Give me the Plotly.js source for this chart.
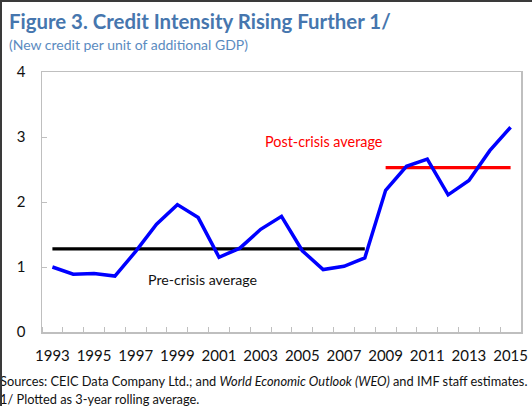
<!DOCTYPE html>
<html>
<head>
<meta charset="utf-8">
<script src="https://cdn.plot.ly/plotly-3.0.1.min.js"></script>
<style>
  html, body { margin: 0; padding: 0; background: #fff; overflow: hidden; width: 532px; height: 406px; }
  #wrap { position: relative; width: 532px; height: 406px; overflow: hidden; }
  #chart { position: absolute; left: 0; top: 0; width: 532px; height: 406px; }
  #frame { position: absolute; left: 0; top: 0; width: 532px; height: 406px; box-sizing: border-box;
           border-left: 2px solid #3a3a3a; border-top: 2px solid #3a3a3a; pointer-events: none; z-index: 5; }
</style>
</head>
<body>
<div id="wrap"><div id="chart"></div><div id="frame"></div></div>
<script>
// Data
const years = [1993,1994,1995,1996,1997,1998,1999,2000,2001,2002,2003,2004,2005,2006,2007,2008,2009,2010,2011,2012,2013,2014,2015];
const creditIntensity = [1.00,0.89,0.90,0.86,1.24,1.66,1.96,1.76,1.15,1.29,1.58,1.78,1.25,0.96,1.01,1.14,2.18,2.55,2.66,2.11,2.33,2.79,3.15];
const preCrisisYears = [1993, 2008];
const preCrisisAvg = 1.28;
const postCrisisYears = [2009, 2015];
const postCrisisAvg = 2.53;
const xTickYears = [1993,1995,1997,1999,2001,2003,2005,2007,2009,2011,2013,2015];
const yTicks = [0,1,2,3,4];

const FONT = 'Lato, "Open Sans", sans-serif';

const traces = [
  { x: preCrisisYears, y: preCrisisYears.map(() => preCrisisAvg), mode: 'lines',
    line: { color: '#000000', width: 3.2 }, hoverinfo: 'skip', showlegend: false },
  { x: postCrisisYears, y: postCrisisYears.map(() => postCrisisAvg), mode: 'lines',
    line: { color: '#ff0000', width: 3.2 }, hoverinfo: 'skip', showlegend: false },
  { x: years, y: creditIntensity, mode: 'lines',
    line: { color: '#0000ff', width: 3.5 }, showlegend: false }
];

const W = 479, H = 260, L = 42, T = 72;
const px = v => (v - L) / W;
const py = v => (T + H - v) / H;

const layout = {
  width: 532, height: 406,
  margin: { l: 42, r: 11, t: 72, b: 74, pad: 0 },
  paper_bgcolor: '#ffffff', plot_bgcolor: '#ffffff',
  font: { family: FONT, color: '#111111', size: 14 },
  showlegend: false,
  xaxis: {
    type: 'linear', range: [1992.5, 2015.5], fixedrange: true,
    tickmode: 'array', tickvals: xTickYears, ticktext: xTickYears.map(String),
    ticks: '', showgrid: false, zeroline: false,
    showline: true, linecolor: '#bfbfbf', linewidth: 1.5, mirror: true,
    ticklabelstandoff: 9,
    tickfont: { family: FONT, size: 15, color: '#111111' },
    minor: { tick0: 1992.5, dtick: 1, ticks: 'inside', ticklen: 5, tickcolor: '#bfbfbf', tickwidth: 1, showgrid: false }
  },
  yaxis: {
    range: [0, 4], fixedrange: true,
    tickmode: 'array', tickvals: yTicks, ticktext: yTicks.map(String),
    ticks: 'inside', ticklen: 5, tickcolor: '#bfbfbf', tickwidth: 1,
    showgrid: false, zeroline: false,
    showline: true, linecolor: '#bfbfbf', linewidth: 1.5, mirror: true,
    ticklabelstandoff: 12,
    tickfont: { family: FONT, size: 15, color: '#111111' }
  },
  annotations: [
    { xref: 'paper', yref: 'paper', x: px(7), y: py(21), xanchor: 'left', yanchor: 'middle', showarrow: false,
      text: '<b>Figure 3. Credit Intensity Rising Further 1/</b>', font: { family: FONT, size: 20.4, color: '#4676ae' } },
    { xref: 'paper', yref: 'paper', x: px(7), y: py(45), xanchor: 'left', yanchor: 'middle', showarrow: false,
      text: '(New credit per unit of additional GDP)', font: { family: FONT, size: 14, color: '#5b8bbf' } },
    { xref: 'paper', yref: 'paper', x: px(323.5), y: py(141), xanchor: 'center', yanchor: 'middle', showarrow: false,
      text: 'Post-crisis average', font: { family: FONT, size: 14.4, color: '#ff0000' } },
    { xref: 'paper', yref: 'paper', x: px(202), y: py(279), xanchor: 'center', yanchor: 'middle', showarrow: false,
      text: 'Pre-crisis average', font: { family: FONT, size: 14.2, color: '#111111' } },
    { xref: 'paper', yref: 'paper', x: px(-2), y: py(381), xanchor: 'left', yanchor: 'middle', showarrow: false,
      text: 'Sources: CEIC Data Company Ltd.; and <i>World Economic Outlook (WEO)</i> and IMF staff estimates.', font: { family: FONT, size: 12.8, color: '#111111' } },
    { xref: 'paper', yref: 'paper', x: px(-2), y: py(399), xanchor: 'left', yanchor: 'middle', showarrow: false,
      text: '1/ Plotted as 3-year rolling average.', font: { family: FONT, size: 12.8, color: '#111111' } }
  ]
};

Plotly.newPlot('chart', traces, layout, { displayModeBar: false, staticPlot: true });
</script>
</body>
</html>
